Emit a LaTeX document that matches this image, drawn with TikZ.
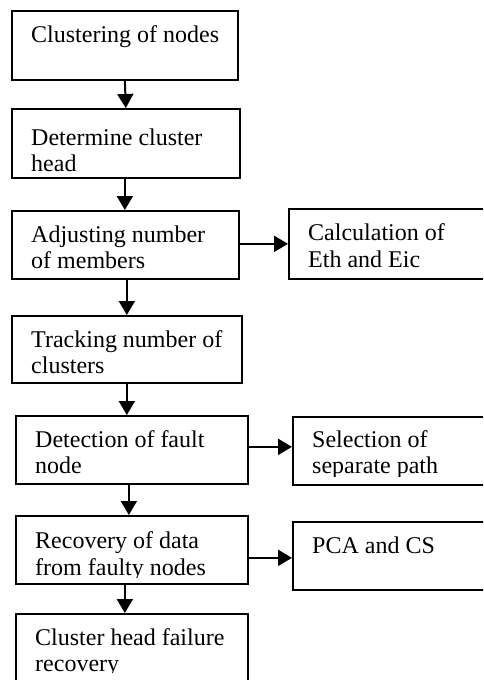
\documentclass[tikz,border=0pt]{standalone}
\usepackage{fontspec}
\setmainfont{Liberation Serif}
\usetikzlibrary{arrows.meta}
\tikzset{
  stepbox/.style={draw, line width=1.7pt, rectangle, inner sep=0pt, anchor=north west},
  label/.style={anchor=base west, inner sep=0pt, font=\fontsize{24}{27}\selectfont},
  flow/.style={line width=2pt, -{Triangle[length=14pt,width=16pt]}}
}
\newcommand{\boxat}[5]{\node[stepbox, minimum width=#4pt, minimum height=#5pt] (#1) at (#2,#3) {};}
\begin{document}
\begin{tikzpicture}[x=1pt,y=-1pt]
\useasboundingbox (0,0) rectangle (483,680);
\clip (0,0) rectangle (483,680);
\fill[white] (0,0) rectangle (483,680);

% main column of steps
\boxat{b1}{11}{10}{226}{69}
\boxat{b2}{11}{108}{228}{69}
\boxat{b3}{11}{210}{227}{68}
\boxat{b4}{11}{315}{230}{67}
\boxat{b5}{15}{415}{232}{68}
\boxat{b6}{15}{515}{232}{68}
\boxat{b7}{15}{613}{232}{90}

% side boxes
\boxat{s1}{288}{208}{220}{70}
\boxat{s2}{292}{416}{220}{68}
\boxat{s3}{292}{521}{220}{68}

% step texts
\node[label] (t1a) at (31,42) {Clustering of nodes};
\node[label] (t2a) at (31,145) {Determine cluster};
\node[label] (t2b) at (31,171) {head};
\node[label] (t3a) at (31,242) {Adjusting number};
\node[label] (t3b) at (31,268) {of members};
\node[label] (t4a) at (31,347) {Tracking number of};
\node[label] (t4b) at (31,373) {clusters};
\node[label] (t5a) at (35,447) {Detection of fault};
\node[label] (t5b) at (35,473) {node};
\node[label] (t6a) at (35,548) {Recovery of data};
\begin{scope}
  \clip (20,555) rectangle (240,577);
  \node[label] (t6b) at (35,575) {from faulty nodes};
\end{scope}
\node[label] (t7a) at (35,645) {Cluster head failure};
\begin{scope}
  \clip (20,650) rectangle (240,672);
  \node[label] (t7b) at (35,671) {recovery};
\end{scope}

% side texts
\node[label] (u1a) at (308,240) {Calculation of};
\node[label] (u1b) at (308,267) {Eth and Eic};
\node[label] (u2a) at (312,447) {Selection of};
\begin{scope}
  \clip (300,452) rectangle (483,476);
  \node[label] (u2b) at (312,473) {separate path};
\end{scope}
\node[label] (u3a) at (312,553) {PCA and CS};

% connectors
\draw[flow] (b1.south) -- (b2.north);
\draw[flow] ([xshift=-1pt]b2.south) -- ([xshift=-1pt]b2.south |- b3.north);
\draw[flow] ([xshift=1.5pt]b3.south) -- ([xshift=1.5pt]b3.south |- b4.north);
\draw[flow] (b4.south) -- (b4.south |- b5.north);
\draw[flow] ([xshift=-3pt]b5.south) -- ([xshift=-3pt]b5.south |- b6.north);
\draw[flow] ([xshift=-7pt]b6.south) -- ([xshift=-7pt]b6.south |- b7.north);
\draw[flow] ([yshift=1pt]b3.east) -- ([yshift=1pt]b3.east -| s1.west);
\draw[flow] ([yshift=3pt]b5.east) -- ([yshift=3pt]b5.east -| s2.west);
\draw[flow] ([yshift=-8pt]b6.east) -- ([yshift=-8pt]b6.east -| s3.west);
\end{tikzpicture}
\end{document}
